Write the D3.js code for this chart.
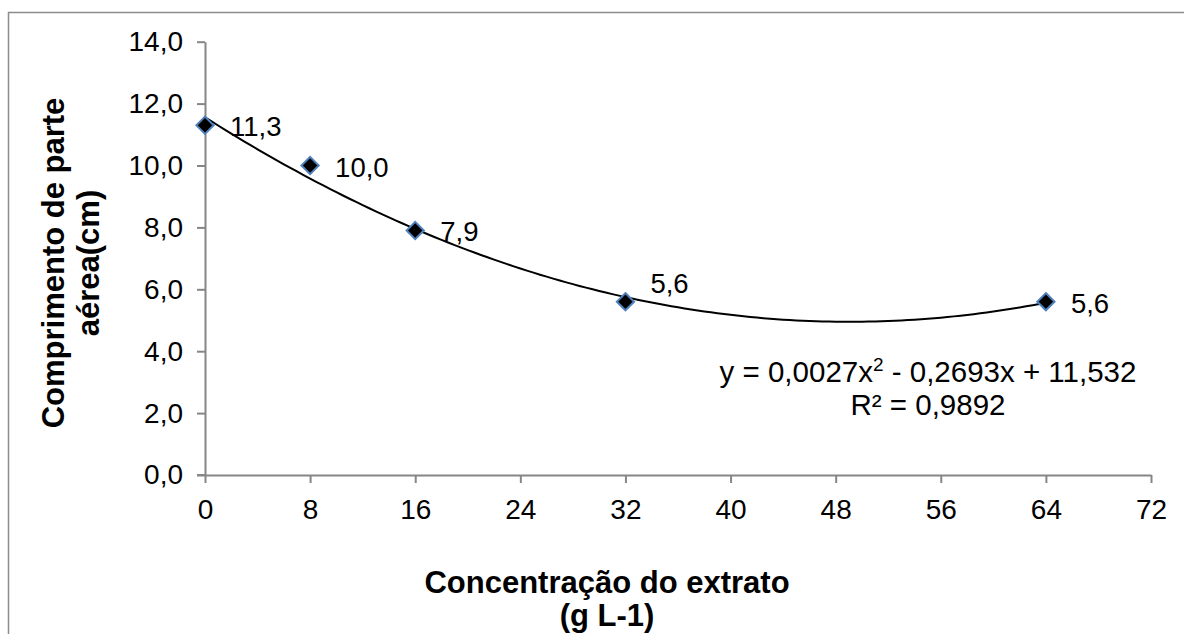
<!DOCTYPE html>
<html>
<head>
<meta charset="utf-8">
<script src="https://cdn.jsdelivr.net/npm/d3@7"></script>
<style>
  body { margin: 0; background: #fff; }
  text { font-family: Arial, "Liberation Sans", sans-serif; fill: #000; }
</style>
</head>
<body>
<svg></svg>
<script>
// data
let concentrations = [0, 8, 16, 32, 64]
let lengths = [11.3, 10.0, 7.9, 5.6, 5.6]
let xTicks = [0, 8, 16, 24, 32, 40, 48, 56, 64, 72]
let yTicks = [0, 2, 4, 6, 8, 10, 12, 14]
let equationText = ['y = 0,0027x', '2', ' - 0,2693x + 11,532']
let r2Text = 'R² = 0,9892'

let W = 1184, H = 634
let svg = d3.select('svg').attr('width', W).attr('height', H)

// outer chart border (right/bottom run off the picture)
svg.append('rect')
  .attr('x', 8.5).attr('y', 12.5)
  .attr('width', 1200).attr('height', 700)
  .attr('fill', 'none')
  .attr('stroke', '#8c8c8c')
  .attr('stroke-width', 1.5)

let x = d3.scaleLinear().domain([0, 72]).range([205, 1151])
let y = d3.scaleLinear().domain([0, 14]).range([475, 41.7])

let fmt = d => d3.format('.1f')(d).replace('.', ',')

// y axis
let yAxis = svg.append('g')
  .attr('transform', 'translate(' + x(0) + ',0)')
  .call(d3.axisLeft(y).tickValues(yTicks).tickSize(8).tickSizeOuter(0).tickFormat(fmt).tickPadding(14))
// x axis
let xAxis = svg.append('g')
  .attr('transform', 'translate(0,' + y(0) + ')')
  .call(d3.axisBottom(x).tickValues(xTicks).tickSize(8).tickSizeOuter(0).tickPadding(16))

svg.selectAll('.domain, .tick line')
  .attr('stroke', '#868686')
  .attr('stroke-width', 2)
svg.selectAll('.tick text')
  .style('font-size', '28px')
  .style('font-family', 'Arial, "Liberation Sans", sans-serif')
  .attr('fill', '#000')
xAxis.selectAll('.tick text').attr('dy', '0.72em')

// extend x axis line to the left like the y tick marks
svg.append('line')
  .attr('x1', x(0) - 8).attr('x2', x(0))
  .attr('y1', y(0)).attr('y2', y(0))
  .attr('stroke', '#868686').attr('stroke-width', 2)

// polynomial (order 2) trendline, least squares on the points
function quadFit(xs, ys) {
  let s = [0, 0, 0, 0, 0], t = [0, 0, 0]
  xs.forEach((xv, i) => {
    for (let k = 0; k < 5; k++) s[k] += Math.pow(xv, k)
    for (let k = 0; k < 3; k++) t[k] += Math.pow(xv, k) * ys[i]
  })
  let m = [[s[0], s[1], s[2], t[0]], [s[1], s[2], s[3], t[1]], [s[2], s[3], s[4], t[2]]]
  for (let i = 0; i < 3; i++) {
    for (let j = i + 1; j < 3; j++) {
      let f = m[j][i] / m[i][i]
      for (let k = i; k < 4; k++) m[j][k] -= f * m[i][k]
    }
  }
  let c = [0, 0, 0]
  for (let i = 2; i >= 0; i--) {
    let v = m[i][3]
    for (let k = i + 1; k < 3; k++) v -= m[i][k] * c[k]
    c[i] = v / m[i][i]
  }
  return c
}
let coef = quadFit(concentrations, lengths)
let trendX = d3.range(0, 64.01, 0.5)
let line = d3.line()
  .x(d => x(d))
  .y(d => y(coef[0] + coef[1] * d + coef[2] * d * d))
svg.append('path')
  .attr('d', line(trendX))
  .attr('fill', 'none')
  .attr('stroke', '#000')
  .attr('stroke-width', 2)

// markers
let diamond = d3.symbol().type(d3.symbolDiamond2).size(190)
svg.selectAll('.pt')
  .data(concentrations)
  .enter().append('path')
  .attr('class', 'pt')
  .attr('d', diamond)
  .attr('transform', (d, i) => 'translate(' + x(d) + ',' + y(lengths[i]) + ')')
  .attr('fill', '#000')
  .attr('stroke', '#4f81bd')
  .attr('stroke-width', 2)

// data labels (the one at 32 is lifted above the line)
let labelLift = [0, 0, 0, 20, 0]
svg.selectAll('.lbl')
  .data(concentrations)
  .enter().append('text')
  .attr('class', 'lbl')
  .attr('x', d => x(d) + 25)
  .attr('y', (d, i) => y(lengths[i]) + 11 - labelLift[i])
  .style('font-size', '27.5px')
  .text((d, i) => fmt(lengths[i]))

// equation and R2
let eq = svg.append('text')
  .attr('x', 928).attr('y', 382)
  .attr('text-anchor', 'middle')
  .style('font-size', '29.5px')
eq.append('tspan').text(equationText[0])
eq.append('tspan').attr('dy', -11).style('font-size', '19px').text(equationText[1])
eq.append('tspan').attr('dy', 11).text(equationText[2])
svg.append('text')
  .attr('x', 928).attr('y', 415)
  .attr('text-anchor', 'middle')
  .style('font-size', '29.5px')
  .text(r2Text)

// axis titles
let xTitle = svg.append('text')
  .attr('x', 607).attr('y', 593)
  .attr('text-anchor', 'middle')
  .style('font-size', '31px')
  .style('font-weight', 'bold')
xTitle.append('tspan').attr('x', 607).text('Concentração do extrato')
xTitle.append('tspan').attr('x', 607).attr('dy', 33).text('(g L-1)')

let yTitle = svg.append('text')
  .attr('transform', 'translate(64,263) rotate(-90)')
  .attr('text-anchor', 'middle')
  .style('font-size', '31px')
  .style('font-weight', 'bold')
yTitle.append('tspan').attr('x', 0).text('Comprimento de parte')
yTitle.append('tspan').attr('x', 0).attr('dy', 35).text('aérea(cm)')
</script>
</body>
</html>
